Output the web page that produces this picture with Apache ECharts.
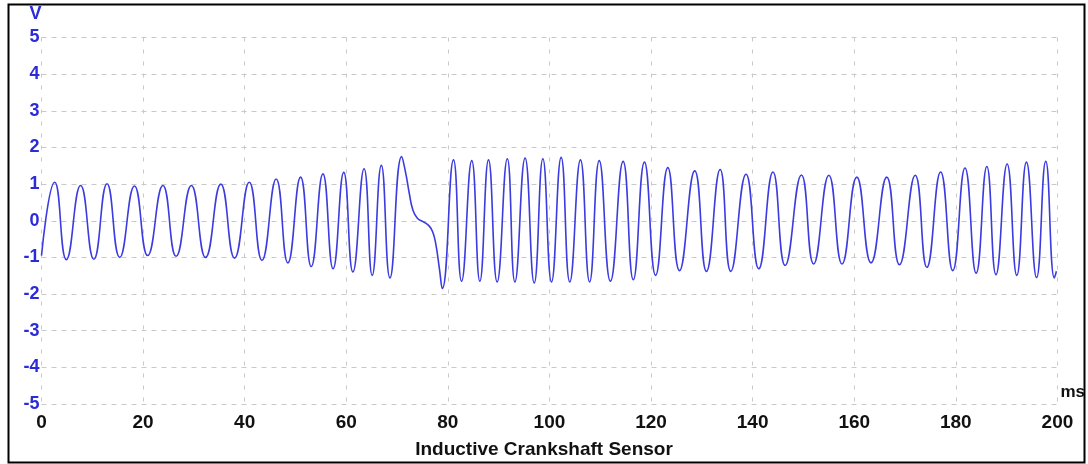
<!DOCTYPE html>
<html>
<head>
<meta charset="utf-8">
<title>Inductive Crankshaft Sensor</title>
<script src="https://cdn.jsdelivr.net/npm/echarts@6/dist/echarts.min.js"></script>
<style>
  html, body { margin: 0; padding: 0; background: #ffffff; }
  #chart { width: 1088px; height: 464px; }
</style>
</head>
<body>
<div id="chart"></div>
<script>
// Sensor trace: turning points of the waveform (time in ms, voltage in V),
// plus a few extra samples across the missing-tooth gap near 72-79 ms.
const timeMs = [
  0.0, 2.6, 4.9, 7.7, 10.3, 12.9, 15.4, 18.3, 20.9, 23.9, 26.5, 29.5, 32.3, 35.3, 38.0,
  40.9, 43.4, 46.2, 48.5, 51.0, 53.1, 55.4, 57.4, 59.5, 61.3, 63.5, 65.1, 66.9, 68.6, 70.9,
  71.7, 72.4, 73.1, 74.0, 75.2, 76.3, 77.0, 77.6, 78.3, 78.9,
  81.1, 82.7, 84.7, 86.3, 88.0, 89.7, 91.7, 93.2, 95.2, 97.0, 98.7, 100.4, 102.3, 104.0,
  106.1, 107.9, 109.8, 112.0, 114.5, 116.5, 118.7, 120.9, 123.3, 125.6, 128.6, 130.9,
  133.6, 135.7, 138.7, 141.2, 144.0, 146.4, 149.6, 152.0, 155.0, 157.6, 160.5, 163.3,
  166.4, 168.9, 172.0, 174.3, 177.0, 179.4, 181.8, 184.0, 186.1, 187.9, 190.1, 192.0,
  193.9, 195.9, 197.7, 199.4, 199.8
];
const volts = [
  -0.95, 1.05, -1.06, 0.96, -1.05, 1.01, -1.00, 0.95, -0.95, 0.96, -0.97, 0.96, -1.00, 1.00, -1.02,
  1.05, -1.08, 1.14, -1.15, 1.19, -1.25, 1.28, -1.31, 1.32, -1.40, 1.42, -1.49, 1.51, -1.56, 1.75,
  1.30, 0.75, 0.30, 0.07, -0.03, -0.14, -0.30, -0.62, -1.27, -1.85,
  1.66, -1.65, 1.64, -1.65, 1.66, -1.67, 1.69, -1.67, 1.71, -1.70, 1.69, -1.67, 1.73, -1.67,
  1.66, -1.67, 1.64, -1.65, 1.62, -1.61, 1.60, -1.49, 1.45, -1.36, 1.36, -1.38,
  1.40, -1.38, 1.27, -1.31, 1.33, -1.22, 1.25, -1.18, 1.24, -1.18, 1.19, -1.15,
  1.19, -1.20, 1.24, -1.27, 1.33, -1.36, 1.44, -1.43, 1.48, -1.47, 1.55, -1.49,
  1.60, -1.55, 1.62, -1.56, -1.38
];

const xAxisRange = { min: 0, max: 200, step: 20 };
const yAxisRange = { min: -5, max: 5, step: 1 };
const chartTitle = 'Inductive Crankshaft Sensor';
const xUnit = 'ms';
const yUnit = 'V';

const traceData = timeMs.map((t, i) => [t, volts[i]]);

const labelFont = '"Liberation Sans", Arial, sans-serif';
const gridColor = '#c9c9c9';

const chart = echarts.init(document.getElementById('chart'), null, { renderer: 'canvas' });

chart.setOption({
  animation: false,
  backgroundColor: '#ffffff',
  grid: { left: 41.5, right: 29, top: 37.5, bottom: 60, containLabel: false },
  xAxis: {
    type: 'value',
    min: xAxisRange.min,
    max: xAxisRange.max,
    interval: xAxisRange.step,
    name: xUnit,
    nameLocation: 'end',
    nameGap: 3,
    nameTextStyle: {
      color: '#111111', fontFamily: labelFont, fontWeight: 'bold', fontSize: 17,
      verticalAlign: 'bottom', align: 'left', padding: [0, 0, 3, 0]
    },
    axisLine: { show: false, onZero: false },
    axisTick: { show: false },
    axisLabel: {
      color: '#111111', fontFamily: labelFont, fontWeight: 'bold', fontSize: 19,
      margin: 9
    },
    splitLine: { show: true, lineStyle: { color: gridColor, width: 1, type: [4, 8] } }
  },
  yAxis: {
    type: 'value',
    min: yAxisRange.min,
    max: yAxisRange.max,
    interval: yAxisRange.step,
    name: yUnit,
    nameLocation: 'end',
    nameGap: 14,
    nameTextStyle: {
      color: '#2b2bd9', fontFamily: labelFont, fontWeight: 'bold', fontSize: 18,
      align: 'right'
    },
    axisLine: { show: false, onZero: false },
    axisTick: { show: false },
    axisLabel: {
      color: '#2b2bd9', fontFamily: labelFont, fontWeight: 'bold', fontSize: 18,
      margin: 2
    },
    splitLine: { show: true, lineStyle: { color: gridColor, width: 1, type: [5, 5] } }
  },
  graphic: [
    {
      type: 'rect',
      silent: true,
      shape: { x: 8.5, y: 4.5, width: 1076, height: 458 },
      style: { fill: 'none', stroke: '#000000', lineWidth: 2 }
    },
    {
      type: 'text',
      left: 'center',
      top: 440,
      style: {
        text: chartTitle,
        fill: '#111111',
        font: 'bold 19px "Liberation Sans", Arial, sans-serif'
      }
    }
  ],
  series: [
    {
      type: 'line',
      data: traceData,
      showSymbol: false,
      symbol: 'none',
      smooth: 0.5,
      lineStyle: { color: '#3b3be0', width: 1.6 }
    }
  ]
});
</script>
</body>
</html>
